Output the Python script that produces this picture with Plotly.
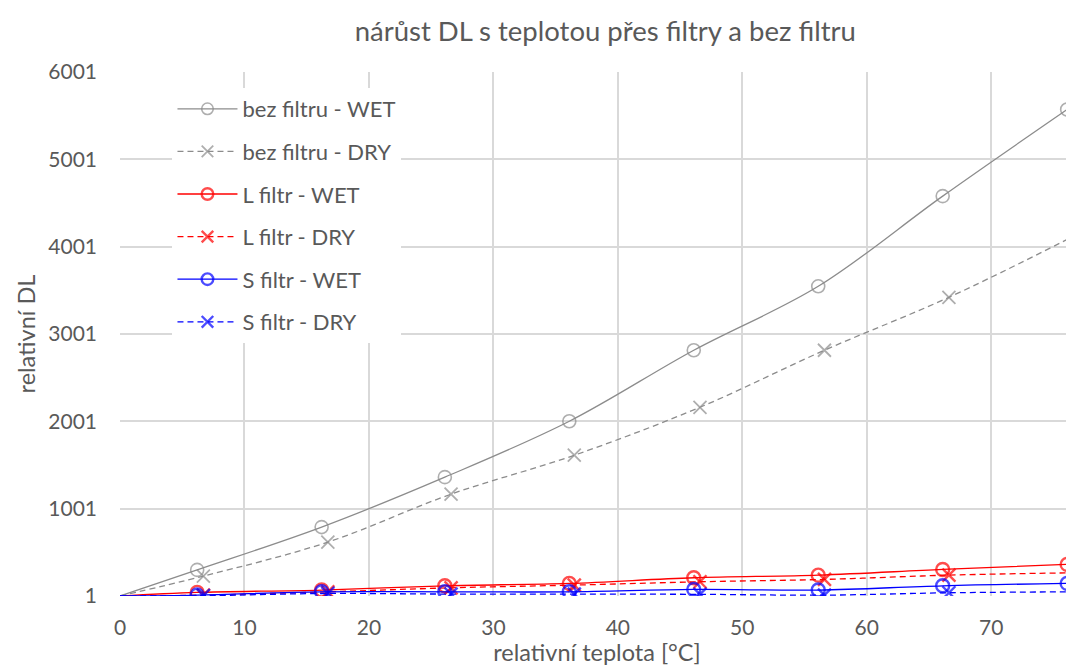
import plotly.graph_objects as go

# data
x_wet = [0, 6.2, 16.2, 26.1, 36.1, 46.1, 56.1, 66.1, 76.1]
x_dry = [0, 6.7, 16.7, 26.6, 36.5, 46.6, 56.6, 66.6, 76.6]

bez_wet = [1, 300, 790, 1362, 2002, 2815, 3547, 4580, 5572]
bez_dry = [1, 229, 618, 1167, 1613, 2162, 2815, 3421, 4119]
l_wet = [1, 42, 69, 118, 145, 210, 240, 305, 363]
l_dry = [1, 11, 49, 95, 126, 164, 191, 240, 267]
s_wet = [1, 12, 49, 49, 49, 76, 69, 118, 145]
s_dry = [1, 5, 30, 23, 23, 20, 11, 38, 49]

names = ["bez filtru - WET", "bez filtru - DRY", "L filtr - WET",
         "L filtr - DRY", "S filtr - WET", "S filtr - DRY"]

y_ticks = [1, 1001, 2001, 3001, 4001, 5001, 6001]
x_ticks = [0, 10, 20, 30, 40, 50, 60, 70]

series = [
    (names[0], x_wet, bez_wet, "#8c8c8c", False, "circle-open", 1.6),
    (names[1], x_dry, bez_dry, "#8c8c8c", True, "x-thin-open", 1.8),
    (names[2], x_wet, l_wet, "#ff0000", False, "circle-open", 2.4),
    (names[3], x_dry, l_dry, "#ff0000", True, "x-thin-open", 2.4),
    (names[4], x_wet, s_wet, "#0000ff", False, "circle-open", 2.4),
    (names[5], x_dry, s_dry, "#0000ff", True, "x-thin-open", 2.4),
]

fig = go.Figure()
for i, (nm, xs, ys, col, dashed, sym, mlw) in enumerate(series):
    sizes = [0] + [13] * (len(xs) - 1)
    fig.add_trace(go.Scatter(
        x=xs, y=ys, name=nm, mode="lines+markers",
        line=dict(color=col, width=1.3, dash="6px,4px" if dashed else "solid",
                  shape="spline", smoothing=1.0),
        marker=dict(symbol=sym, size=sizes, color=col, line=dict(color=col, width=mlw)),
        legendgroup=f"g{i}",
    ))

font_col = "#595959"
# the page body adds an 8px margin, so the figure is 8px smaller and margins shifted
fig.update_layout(
    width=1066, height=658,
    margin=dict(l=111.5, r=0, t=64, b=70, autoexpand=False),
    plot_bgcolor="white", paper_bgcolor="white",
    font=dict(family="Lato, Open Sans, sans-serif", color=font_col, size=21),
    title=dict(text="nárůst DL s teplotou přes filtry a bez filtru",
               x=0.5087, xref="paper", xanchor="center",
               y=1 - 23 / 658, yref="container", yanchor="middle",
               font=dict(size=27.5, color=font_col)),
    xaxis=dict(range=[0, 76.65], tickvals=x_ticks, showgrid=True,
               gridcolor="#d9d9d9", gridwidth=1.6, zeroline=False,
               showline=False, ticks="", automargin=False,
               ticklabelstandoff=17,
               tickfont=dict(size=21, color=font_col),
               title=dict(text="relativní teplota [°C]", standoff=1,
                          font=dict(size=23.5, color=font_col))),
    yaxis=dict(range=[1, 6001], tickvals=y_ticks, showgrid=True,
               gridcolor="#d9d9d9", gridwidth=1.6, zeroline=False,
               showline=False, ticks="", automargin=False,
               ticklabelstandoff=22,
               tickfont=dict(size=21, color=font_col),
               title=dict(text="relativní DL", standoff=6,
                          font=dict(size=23.5, color=font_col))),
    legend=dict(x=0.055, y=0.9695, xanchor="left", yanchor="top",
                bgcolor="white", font=dict(size=22, color=font_col),
                traceorder="grouped", tracegroupgap=11, itemwidth=60),
    showlegend=True,
)

fig.write_html("out.html")
